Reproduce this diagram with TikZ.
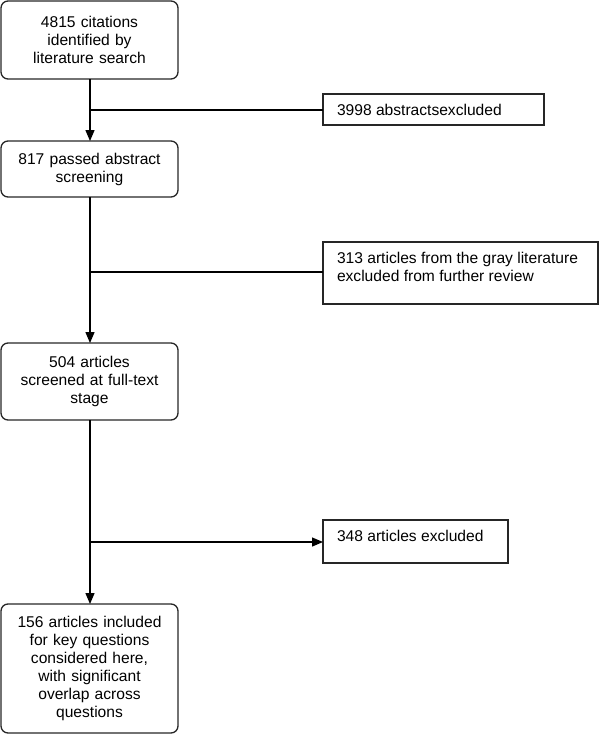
\documentclass[tikz,border=0pt]{standalone}
\usepackage{fontspec}
\setmainfont{Liberation Sans}
\usetikzlibrary{arrows.meta}
\begin{document}
\begin{tikzpicture}[x=1pt,y=-1pt,
  every node/.style={inner sep=0pt, outer sep=0pt, font=\fontsize{15.6}{18}\selectfont},
  stagebox/.style={draw=black!85, line width=1.3pt, rounded corners=7pt, align=center, text width=170pt},
  exbox/.style={draw=black!85, line width=1.3pt},
  conn/.style={line width=1.3pt, draw=black},
  arr/.style={conn, -{Triangle[width=9pt,length=11pt]}}]
\useasboundingbox (0,0) rectangle (600,737);
\node[stagebox, minimum width=177pt, minimum height=78pt] (s1) at (89.5,40) {4815 citations\\identified by\\literature search};
\node[stagebox, minimum width=177pt, minimum height=56pt] (s2) at (89.5,169) {817 passed abstract\\screening};
\node[stagebox, minimum width=177pt, minimum height=77pt] (s3) at (89.5,381.5) {504 articles\\screened at full-text\\stage};
\node[stagebox, minimum width=177pt, minimum height=129pt] (s4) at (89.5,668.5) {156 articles included\\for key questions\\considered here,\\with significant\\overlap across\\questions};
\node[exbox, minimum width=221pt, minimum height=31pt] (e1) at (433.5,109.5) {\parbox[c][31pt][c]{193pt}{3998 abstractsexcluded}};
\node[exbox, minimum width=275pt, minimum height=62pt] (e2) at (460.5,273) {\parbox[c][42pt][t]{247pt}{313 articles from the gray literature\\excluded from further review}};
\node[exbox, minimum width=185pt, minimum height=43pt] (e3) at (415.5,541.5) {\parbox[c][23pt][t]{157pt}{348 articles excluded}};
\coordinate (b1) at (90,110);
\coordinate (b2) at (90,272);
\coordinate (b3) at (90,542);
\draw[arr] (s1.south -| b1) -- (s2.north -| b1);
\draw[conn] (b1) -- (e1.west |- b1);
\draw[arr] (s2.south -| b2) -- (s3.north -| b2);
\draw[conn] (b2) -- (e2.west |- b2);
\draw[arr] (s3.south -| b3) -- (s4.north -| b3);
\draw[arr] (b3) -- (e3.west |- b3);
\end{tikzpicture}
\end{document}
